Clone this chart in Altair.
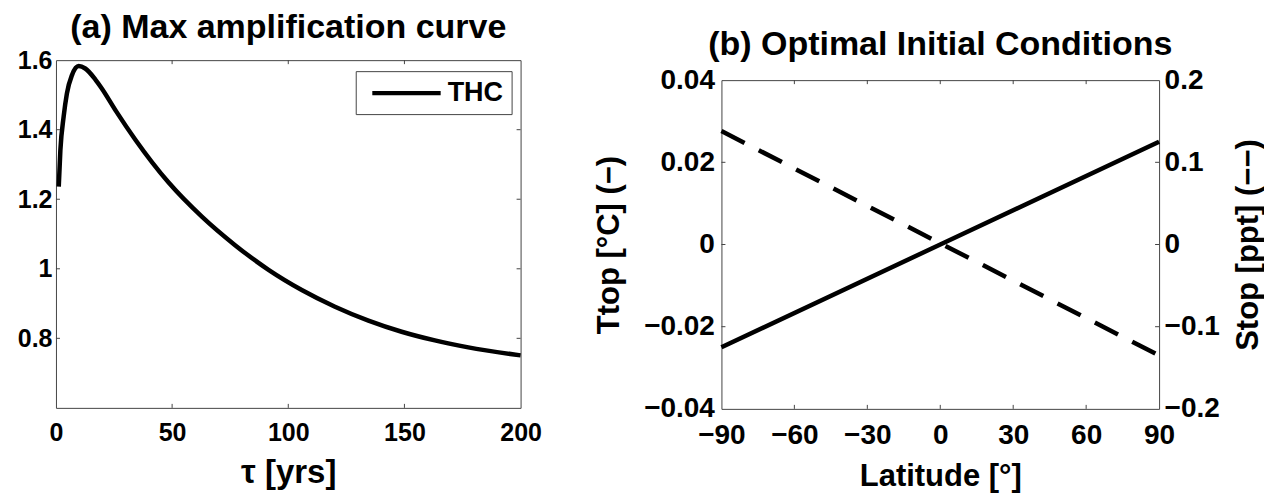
import altair as alt
import pandas as pd

# ---------------- Panel (a): max amplification curve ----------------
tau = [1.2, 1.9, 3.3, 4.7, 6.9, 9.8, 12.6, 16.9, 19.8, 26.0, 34.1, 48.5, 62.8,
       77.1, 91.5, 105.8, 120.1, 134.5, 148.8, 163.1, 177.5, 200.0]
amp = [1.236, 1.341, 1.437, 1.504, 1.557, 1.583, 1.576, 1.545, 1.518, 1.452, 1.372,
       1.248, 1.150, 1.068, 0.997, 0.939, 0.891, 0.851, 0.819, 0.794, 0.774, 0.751]
series = ["THC"] * len(tau)
tau_ticks = [0, 50, 100, 150, 200]
amp_ticks = [0.8, 1.0, 1.2, 1.4, 1.6]

# ---------------- Panel (b): optimal initial conditions ----------------
lat = [-90, 0, 90]
ttop = [-0.025, 0.0, 0.025]
stop = [0.138, 0.0015, -0.135]
lat_ticks = [-90, -60, -30, 0, 30, 60, 90]
ttop_ticks = [-0.04, -0.02, 0, 0.02, 0.04]
stop_ticks = [-0.2, -0.1, 0, 0.1, 0.2]

FONT = "Liberation Sans"
FRAME = "#444444"
WA, HA = 465, 348
WB, HB = 438, 329
TL = 4

df_a = pd.DataFrame({"tau": tau, "amp": amp, "series": series})
xt_a = pd.DataFrame({"tau": tau_ticks[1:-1]})
yt_a = pd.DataFrame({"amp": amp_ticks[:-1]})

df_b = pd.DataFrame({"lat": lat, "ttop": ttop, "stop": stop})
xt_b = pd.DataFrame({"lat": lat_ticks[1:-1]})
yt_b = pd.DataFrame({"ttop": ttop_ticks[1:-1]})


def axis(**kw):
    base = dict(ticks=False, domain=False, grid=False, labelFlush=False,
                labelOverlap=False, labelFont=FONT, labelFontWeight="bold",
                labelColor="black", titleFont=FONT, titleFontWeight="bold",
                titleColor="black", format="~r")
    base.update(kw)
    return alt.Axis(**base)


xa = alt.X("tau:Q", scale=alt.Scale(domain=[0, 200], nice=False, zero=False),
           axis=axis(values=tau_ticks, title="τ [yrs]", labelFontSize=25,
                     labelPadding=13, titleFontSize=33, titlePadding=11))
ya = alt.Y("amp:Q", scale=alt.Scale(domain=[0.6, 1.6], nice=False, zero=False),
           axis=axis(values=amp_ticks, title=None, labelFontSize=25, labelPadding=4))

line_a = alt.Chart(df_a).mark_line(strokeWidth=4.5, interpolate="monotone").encode(
    x=xa, y=ya,
    color=alt.Color("series:N", scale=alt.Scale(range=["black"]),
                    legend=alt.Legend(title=None, orient="none", legendX=300, legendY=11,
                                      padding=8, strokeColor=FRAME, fillColor="white",
                                      symbolType="M-0.474,0H5.526", symbolSize=520,
                                      symbolStrokeWidth=4.5, labelOffset=56,
                                      labelFont=FONT, labelFontSize=27,
                                      labelFontWeight="bold", labelColor="black")))
tick_a_bot = alt.Chart(xt_a).mark_rule(color=FRAME).encode(x=xa, y=alt.value(HA), y2=alt.value(HA - TL))
tick_a_top = alt.Chart(xt_a).mark_rule(color=FRAME).encode(x=xa, y=alt.value(0), y2=alt.value(TL))
tick_a_l = alt.Chart(yt_a).mark_rule(color=FRAME).encode(y=ya, x=alt.value(0), x2=alt.value(TL))
tick_a_r = alt.Chart(yt_a).mark_rule(color=FRAME).encode(y=ya, x=alt.value(WA - TL), x2=alt.value(WA))

panel_a = alt.layer(line_a, tick_a_bot, tick_a_top, tick_a_l, tick_a_r).properties(
    width=WA, height=HA,
    title=alt.Title("(a) Max amplification curve", font=FONT, fontSize=34,
                    fontWeight="bold", color="black", anchor="middle", offset=3))

xb = alt.X("lat:Q", scale=alt.Scale(domain=[-90, 90], nice=False, zero=False),
           axis=axis(values=lat_ticks, title="Latitude [°]", labelFontSize=28,
                     labelPadding=13, titleFontSize=31, titlePadding=12))
yb_l = alt.Y("ttop:Q", scale=alt.Scale(domain=[-0.04, 0.04], nice=False, zero=False),
             axis=axis(values=ttop_ticks, title="Ttop [°C] (−)", orient="left",
                       labelFontSize=28, labelPadding=7, titleFontSize=31, titlePadding=18))
yb_r = alt.Y("stop:Q", scale=alt.Scale(domain=[-0.2, 0.2], nice=False, zero=False),
             axis=axis(values=stop_ticks, title="Stop [ppt] (−−)", orient="right",
                       titleAngle=270, titleBaseline="top", labelFontSize=28,
                       labelPadding=5, titleFontSize=31, titlePadding=14))

solid_b = alt.Chart(df_b).mark_line(strokeWidth=4.5, color="black").encode(x=xb, y=yb_l)
tick_b_bot = alt.Chart(xt_b).mark_rule(color=FRAME).encode(x=xb, y=alt.value(HB), y2=alt.value(HB - TL))
tick_b_top = alt.Chart(xt_b).mark_rule(color=FRAME).encode(x=xb, y=alt.value(0), y2=alt.value(TL))
tick_b_l = alt.Chart(yt_b).mark_rule(color=FRAME).encode(y=yb_l, x=alt.value(0), x2=alt.value(TL))
tick_b_r = alt.Chart(yt_b).mark_rule(color=FRAME).encode(y=yb_l, x=alt.value(WB - TL), x2=alt.value(WB))
left_group = alt.layer(solid_b, tick_b_bot, tick_b_top, tick_b_l, tick_b_r)

dashed_b = alt.Chart(df_b).mark_line(strokeWidth=4.5, color="black", strokeDash=[26, 16]).encode(x=xb, y=yb_r)

panel_b = alt.layer(left_group, dashed_b).resolve_scale(y="independent").properties(
    width=WB, height=HB,
    title=alt.Title("(b) Optimal Initial Conditions", font=FONT, fontSize=34,
                    fontWeight="bold", color="black", anchor="middle", offset=4))

spacer = alt.Chart(pd.DataFrame({"s": [0]})).mark_point(opacity=0).properties(
    width=WB, height=20, view=alt.ViewBackground(stroke=None))

right_col = alt.vconcat(spacer, panel_b, spacing=0, bounds="flush")

chart = alt.hconcat(panel_a, right_col, spacing=50).configure_view(
    stroke=FRAME, strokeWidth=1).properties(
    background="white", padding={"left": 8, "top": 2, "right": 0, "bottom": 0})

chart.save("out.html", embed_options={"renderer": "svg", "actions": False})
